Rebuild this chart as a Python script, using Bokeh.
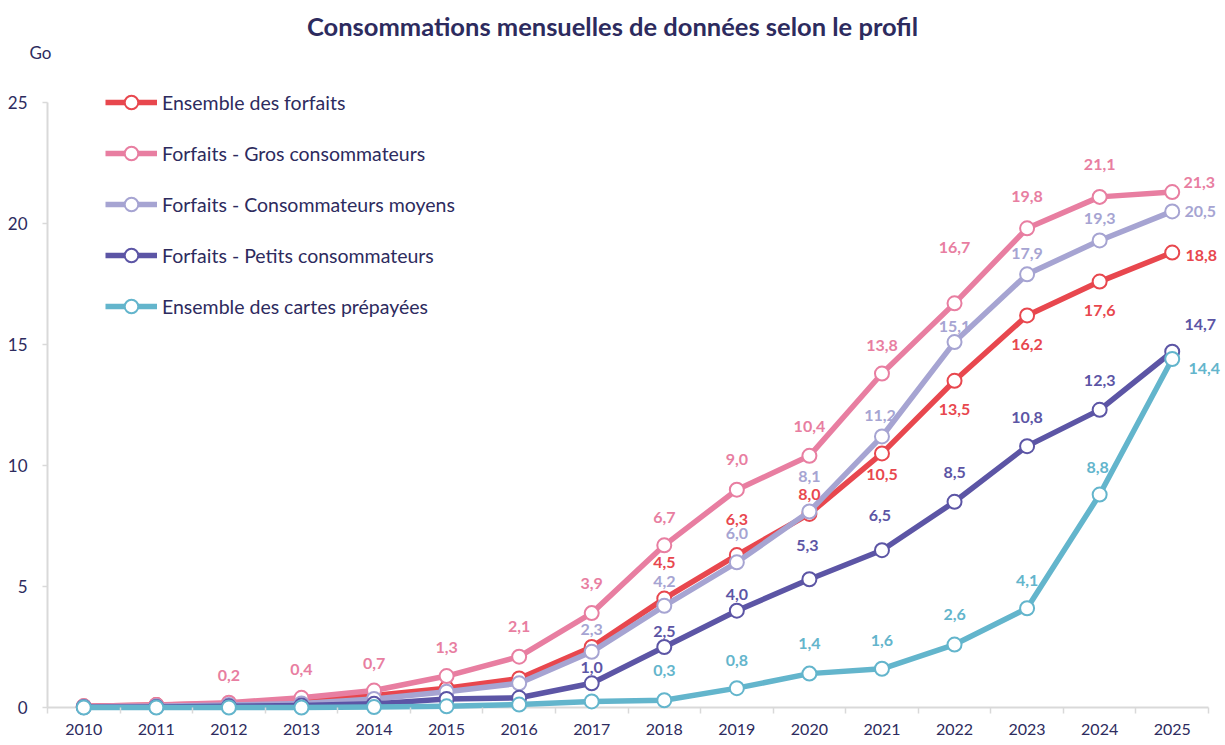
from bokeh.plotting import figure
from bokeh.models import Range1d, FixedTicker, Label, LabelSet, ColumnDataSource, Legend, LegendItem
from bokeh.embed import file_html
from bokeh.resources import INLINE
from bokeh.core.properties import value

# ---------------- data ----------------
years = list(range(2010, 2026))
ensemble_forfaits = [0.05, 0.1, 0.15, 0.25, 0.5, 0.8, 1.2, 2.5, 4.5, 6.3, 8.0, 10.5, 13.5, 16.2, 17.6, 18.8]
gros_conso = [0.05, 0.1, 0.2, 0.4, 0.7, 1.3, 2.1, 3.9, 6.7, 9.0, 10.4, 13.8, 16.7, 19.8, 21.1, 21.3]
moyens_conso = [0.03, 0.05, 0.1, 0.17, 0.35, 0.65, 1.0, 2.3, 4.2, 6.0, 8.1, 11.2, 15.1, 17.9, 19.3, 20.5]
petits_conso = [0.01, 0.02, 0.05, 0.08, 0.15, 0.35, 0.4, 1.0, 2.5, 4.0, 5.3, 6.5, 8.5, 10.8, 12.3, 14.7]
cartes_prepayees = [0.0, 0.0, 0.0, 0.0, 0.02, 0.05, 0.12, 0.25, 0.3, 0.8, 1.4, 1.6, 2.6, 4.1, 8.8, 14.4]
y_ticks = [0, 5, 10, 15, 20, 25]

series_names = ["Ensemble des forfaits", "Forfaits - Gros consommateurs",
                "Forfaits - Consommateurs moyens", "Forfaits - Petits consommateurs",
                "Ensemble des cartes prépayées"]
series_values = [ensemble_forfaits, gros_conso, moyens_conso, petits_conso, cartes_prepayees]
title_text = "Consommations mensuelles de données selon le profil"
unit_text = "Go"

# ---------------- styles / label placement (screen px offsets) ----------------
colors = ["#e8474e", "#e87ea1", "#a6a4d2", "#5c55a5", "#63b5cc"]
label_offsets = [
    {2018: (0, 36), 2019: (0, 36), 2020: (0, 19), 2021: (0, -21), 2022: (0, -29),
     2023: (0, -29), 2024: (0, -29), 2025: (29, -3)},
    {2012: (0, 27), 2013: (0, 28), 2014: (0, 27), 2015: (0, 29), 2016: (0, 30), 2017: (0, 30),
     2018: (0, 28), 2019: (0, 30), 2020: (0, 29), 2021: (0, 28), 2022: (0, 56), 2023: (0, 32),
     2024: (0, 32), 2025: (27, 10)},
    {2017: (0, 22), 2018: (0, 24), 2019: (0, 29), 2020: (0, 35), 2021: (-2, 21), 2022: (0, 16),
     2023: (0, 21), 2024: (0, 22), 2025: (28, 0)},
    {2017: (0, 16), 2018: (0, 16), 2019: (0, 16), 2020: (-2, 34), 2021: (-2, 35), 2022: (0, 29),
     2023: (0, 29), 2024: (0, 29), 2025: (28, 27)},
    {2018: (0, 30), 2019: (0, 28), 2020: (0, 30), 2021: (0, 28), 2022: (0, 30), 2023: (0, 28),
     2024: (-2, 27), 2025: (32, -9)},
]

NAVY = "#2d2b5e"
AXIS_GREY = "#d9d9d9"
FONT = "Lato"

# canvas geometry (px): the plotting frame fills the canvas, axes are drawn at fixed places
W, H = 1224, 744
AX_LEFT, AX_RIGHT = 47, 1208      # px of the category band edges
AX_ZERO, AX_TOP = 707, 102        # px of value 0 and value 25

x_start, x_end = years[0] - 0.5, years[-1] + 0.5
y_top = y_ticks[-1]
px_per_x = (AX_RIGHT - AX_LEFT) / (x_end - x_start)
px_per_y = (AX_ZERO - AX_TOP) / y_top
xr = Range1d(x_start - AX_LEFT / px_per_x, x_end + (W - AX_RIGHT) / px_per_x)
yr = Range1d(-(H - AX_ZERO) / px_per_y, y_top + AX_TOP / px_per_y)

p = figure(width=W, height=H, x_range=xr, y_range=yr, min_border=0,
           output_backend="svg", toolbar_location=None, background_fill_color="white",
           border_fill_color="white")
p.outline_line_color = None
p.xgrid.grid_line_color = None
p.ygrid.grid_line_color = None

# axes
p.xaxis.fixed_location = 0
p.xaxis.ticker = FixedTicker(ticks=years, minor_ticks=[y - 0.5 for y in years] + [x_end])
p.xaxis.axis_line_color = None
p.xaxis.major_tick_line_color = None
p.xaxis.major_tick_out = 0
p.xaxis.major_tick_in = 0
p.xaxis.minor_tick_line_color = AXIS_GREY
p.xaxis.minor_tick_line_width = 1.5
p.xaxis.minor_tick_in = 0
p.xaxis.minor_tick_out = 6
p.xaxis.major_label_standoff = 10
p.xaxis.major_label_text_font = FONT
p.xaxis.major_label_text_font_size = "16px"
p.xaxis.major_label_text_color = NAVY

p.yaxis.fixed_location = x_start
p.yaxis.ticker = FixedTicker(ticks=y_ticks, minor_ticks=[])
p.yaxis.axis_line_color = None
p.yaxis.major_tick_line_color = AXIS_GREY
p.yaxis.major_tick_line_width = 1.5
p.yaxis.major_tick_in = 0
p.yaxis.major_tick_out = 5
p.yaxis.minor_tick_line_color = None
p.yaxis.major_label_standoff = 15
p.yaxis.major_label_text_font = FONT
p.yaxis.major_label_text_font_size = "17px"
p.yaxis.major_label_text_color = NAVY

# axis lines at value 0 and at the left edge of the categories
p.segment(x0=[x_start], y0=[0], x1=[x_end], y1=[0], line_color=AXIS_GREY, line_width=2)
p.segment(x0=[x_start], y0=[0], x1=[x_start], y1=[y_top], line_color=AXIS_GREY, line_width=2)

items = []
for name, vals, col, offs in zip(series_names, series_values, colors, label_offsets):
    src = ColumnDataSource(dict(x=years, y=vals))
    ln = p.line("x", "y", source=src, line_color=col, line_width=5.5, line_join="round")
    sc = p.scatter("x", "y", source=src, size=14, fill_color="white", line_color=col, line_width=2)
    items.append(LegendItem(label=name, renderers=[ln, sc]))
    lx, ly, lt, dx, dy = [], [], [], [], []
    for yr_, v in zip(years, vals):
        if yr_ in offs:
            lx.append(yr_)
            ly.append(v)
            lt.append(f"{v:.1f}".replace(".", ","))
            dx.append(offs[yr_][0])
            dy.append(offs[yr_][1])
    lsrc = ColumnDataSource(dict(x=lx, y=ly, t=lt, dx=dx, dy=dy))
    p.add_layout(LabelSet(x="x", y="y", text="t", x_offset="dx", y_offset="dy", source=lsrc,
                          text_align="center", text_baseline="middle",
                          text_font=value(FONT), text_font_style="bold",
                          text_font_size="16px", text_color=col))

legend = Legend(items=items, location=(105, H - 323), orientation="vertical",
                glyph_width=52, glyph_height=34, spacing=17, label_standoff=5,
                label_height=34, padding=0, margin=0,
                label_text_font=FONT, label_text_font_size="19.5px", label_text_color=NAVY,
                border_line_color=None, background_fill_alpha=0)
p.add_layout(legend)

p.add_layout(Label(x=612, y=H - 25, x_units="screen", y_units="screen", text=title_text,
                   text_align="center", text_baseline="middle", text_font=FONT,
                   text_font_style="bold", text_font_size="25.5px", text_color=NAVY))
p.add_layout(Label(x=40, y=H - 52, x_units="screen", y_units="screen", text=unit_text,
                   text_align="center", text_baseline="middle", text_font=FONT,
                   text_font_size="17px", text_color=NAVY))

open("out.html", "w").write(file_html(p, INLINE))
